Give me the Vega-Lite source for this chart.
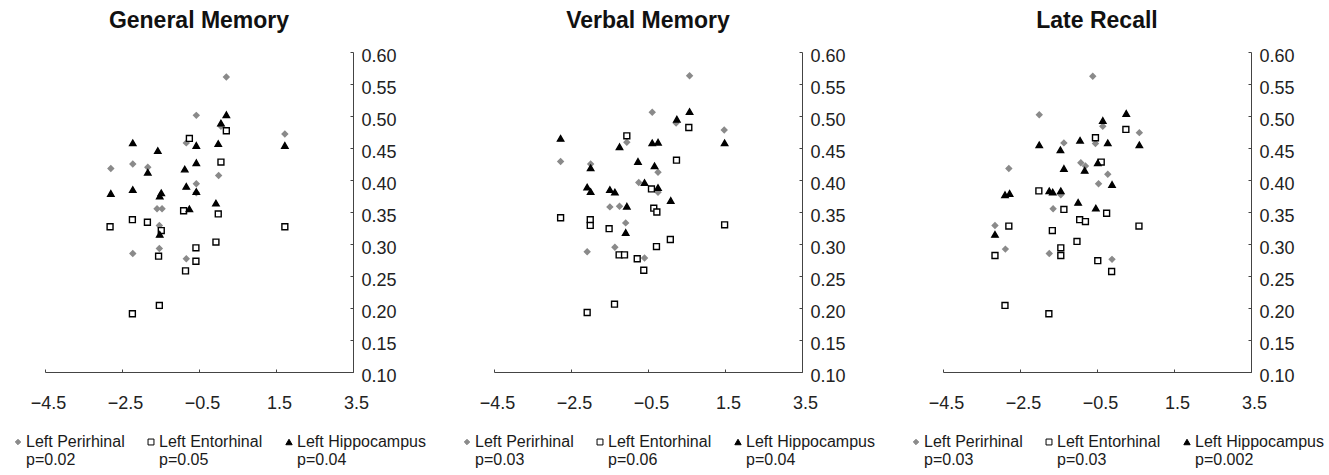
{
  "$schema": "https://vega.github.io/schema/vega-lite/v6.json",
  "background": "white",
  "padding": {"left": 10, "top": 10, "right": 5, "bottom": 3},
  "bounds": "flush",
  "spacing": 141,
  "config": {
    "view": {"stroke": null},
    "font": "Liberation Sans",
    "axis": {
      "grid": false,
      "domainColor": "#444444",
      "tickColor": "#444444",
      "labelFont": "Liberation Sans",
      "labelFontSize": 18,
      "labelColor": "#222222",
      "title": null,
      "labelOverlap": false,
      "labelFlush": false,
      "tickSize": -3
    },
    "title": {"font": "Liberation Sans", "fontSize": 23, "fontWeight": "bold", "color": "#111111", "offset": 14}
  },
  "datasets": {
    "gm": [
      {"r": "Left Perirhinal", "x": 0.21, "y": 0.561}, {"r": "Left Perirhinal", "x": -0.57, "y": 0.501}, {"r": "Left Perirhinal", "x": 1.73, "y": 0.472}, {"r": "Left Perirhinal", "x": -0.83, "y": 0.458}, {"r": "Left Perirhinal", "x": -2.79, "y": 0.418}, {"r": "Left Perirhinal", "x": -2.22, "y": 0.425}, {"r": "Left Perirhinal", "x": -1.83, "y": 0.42}, {"r": "Left Perirhinal", "x": 0.01, "y": 0.407}, {"r": "Left Perirhinal", "x": -0.57, "y": 0.394}, {"r": "Left Perirhinal", "x": -0.57, "y": 0.38}, {"r": "Left Perirhinal", "x": -1.59, "y": 0.355}, {"r": "Left Perirhinal", "x": -1.46, "y": 0.355}, {"r": "Left Perirhinal", "x": -1.53, "y": 0.329}, {"r": "Left Perirhinal", "x": -1.53, "y": 0.293}, {"r": "Left Perirhinal", "x": -2.22, "y": 0.285}, {"r": "Left Perirhinal", "x": -0.83, "y": 0.277}, {"r": "Left Perirhinal", "x": 0.07, "y": 0.484},
      {"r": "Left Entorhinal", "x": -0.75, "y": 0.465}, {"r": "Left Entorhinal", "x": 0.21, "y": 0.477}, {"r": "Left Entorhinal", "x": 0.07, "y": 0.428}, {"r": "Left Entorhinal", "x": -0.9, "y": 0.352}, {"r": "Left Entorhinal", "x": 0.0, "y": 0.347}, {"r": "Left Entorhinal", "x": -2.81, "y": 0.327}, {"r": "Left Entorhinal", "x": -2.23, "y": 0.338}, {"r": "Left Entorhinal", "x": -1.84, "y": 0.334}, {"r": "Left Entorhinal", "x": -1.48, "y": 0.321}, {"r": "Left Entorhinal", "x": 1.73, "y": 0.327}, {"r": "Left Entorhinal", "x": -0.06, "y": 0.303}, {"r": "Left Entorhinal", "x": -0.58, "y": 0.294}, {"r": "Left Entorhinal", "x": -1.55, "y": 0.281}, {"r": "Left Entorhinal", "x": -0.58, "y": 0.273}, {"r": "Left Entorhinal", "x": -0.85, "y": 0.258}, {"r": "Left Entorhinal", "x": -1.53, "y": 0.204}, {"r": "Left Entorhinal", "x": -2.23, "y": 0.191},
      {"r": "Left Hippocampus", "x": 0.21, "y": 0.502}, {"r": "Left Hippocampus", "x": 0.07, "y": 0.489}, {"r": "Left Hippocampus", "x": -2.22, "y": 0.458}, {"r": "Left Hippocampus", "x": -1.57, "y": 0.446}, {"r": "Left Hippocampus", "x": -0.57, "y": 0.454}, {"r": "Left Hippocampus", "x": 0.0, "y": 0.457}, {"r": "Left Hippocampus", "x": 1.73, "y": 0.454}, {"r": "Left Hippocampus", "x": -0.57, "y": 0.427}, {"r": "Left Hippocampus", "x": -0.87, "y": 0.417}, {"r": "Left Hippocampus", "x": -1.83, "y": 0.412}, {"r": "Left Hippocampus", "x": -2.79, "y": 0.379}, {"r": "Left Hippocampus", "x": -2.22, "y": 0.385}, {"r": "Left Hippocampus", "x": -1.48, "y": 0.38}, {"r": "Left Hippocampus", "x": -1.52, "y": 0.375}, {"r": "Left Hippocampus", "x": -0.83, "y": 0.39}, {"r": "Left Hippocampus", "x": -0.57, "y": 0.382}, {"r": "Left Hippocampus", "x": -0.06, "y": 0.364}, {"r": "Left Hippocampus", "x": -0.75, "y": 0.355}, {"r": "Left Hippocampus", "x": -1.52, "y": 0.315}
    ],
    "vm": [
      {"r": "Left Perirhinal", "x": 0.58, "y": 0.563}, {"r": "Left Perirhinal", "x": -0.39, "y": 0.506}, {"r": "Left Perirhinal", "x": 1.48, "y": 0.478}, {"r": "Left Perirhinal", "x": -1.05, "y": 0.459}, {"r": "Left Perirhinal", "x": -2.77, "y": 0.429}, {"r": "Left Perirhinal", "x": -1.99, "y": 0.425}, {"r": "Left Perirhinal", "x": -0.24, "y": 0.412}, {"r": "Left Perirhinal", "x": -0.74, "y": 0.396}, {"r": "Left Perirhinal", "x": -0.24, "y": 0.381}, {"r": "Left Perirhinal", "x": -1.49, "y": 0.358}, {"r": "Left Perirhinal", "x": -1.24, "y": 0.359}, {"r": "Left Perirhinal", "x": -1.08, "y": 0.333}, {"r": "Left Perirhinal", "x": -2.08, "y": 0.288}, {"r": "Left Perirhinal", "x": -1.36, "y": 0.295}, {"r": "Left Perirhinal", "x": -0.59, "y": 0.278}, {"r": "Left Perirhinal", "x": 0.23, "y": 0.489},
      {"r": "Left Entorhinal", "x": -1.05, "y": 0.469}, {"r": "Left Entorhinal", "x": 0.56, "y": 0.482}, {"r": "Left Entorhinal", "x": 0.24, "y": 0.431}, {"r": "Left Entorhinal", "x": -0.41, "y": 0.386}, {"r": "Left Entorhinal", "x": -0.35, "y": 0.356}, {"r": "Left Entorhinal", "x": -0.27, "y": 0.35}, {"r": "Left Entorhinal", "x": -2.77, "y": 0.341}, {"r": "Left Entorhinal", "x": -2.0, "y": 0.338}, {"r": "Left Entorhinal", "x": -2.0, "y": 0.329}, {"r": "Left Entorhinal", "x": -1.51, "y": 0.324}, {"r": "Left Entorhinal", "x": 1.49, "y": 0.33}, {"r": "Left Entorhinal", "x": 0.08, "y": 0.307}, {"r": "Left Entorhinal", "x": -0.28, "y": 0.296}, {"r": "Left Entorhinal", "x": -1.25, "y": 0.283}, {"r": "Left Entorhinal", "x": -1.11, "y": 0.283}, {"r": "Left Entorhinal", "x": -0.78, "y": 0.277}, {"r": "Left Entorhinal", "x": -0.61, "y": 0.259}, {"r": "Left Entorhinal", "x": -1.37, "y": 0.206}, {"r": "Left Entorhinal", "x": -2.08, "y": 0.193},
      {"r": "Left Hippocampus", "x": 0.58, "y": 0.507}, {"r": "Left Hippocampus", "x": 0.25, "y": 0.495}, {"r": "Left Hippocampus", "x": -2.77, "y": 0.465}, {"r": "Left Hippocampus", "x": -1.24, "y": 0.452}, {"r": "Left Hippocampus", "x": -0.39, "y": 0.458}, {"r": "Left Hippocampus", "x": -0.24, "y": 0.459}, {"r": "Left Hippocampus", "x": 1.49, "y": 0.458}, {"r": "Left Hippocampus", "x": -0.76, "y": 0.429}, {"r": "Left Hippocampus", "x": -0.33, "y": 0.422}, {"r": "Left Hippocampus", "x": -1.99, "y": 0.419}, {"r": "Left Hippocampus", "x": -0.59, "y": 0.396}, {"r": "Left Hippocampus", "x": -2.08, "y": 0.389}, {"r": "Left Hippocampus", "x": -1.99, "y": 0.382}, {"r": "Left Hippocampus", "x": -1.49, "y": 0.385}, {"r": "Left Hippocampus", "x": -1.36, "y": 0.381}, {"r": "Left Hippocampus", "x": -0.24, "y": 0.388}, {"r": "Left Hippocampus", "x": 0.09, "y": 0.368}, {"r": "Left Hippocampus", "x": -1.05, "y": 0.359}, {"r": "Left Hippocampus", "x": -1.08, "y": 0.318}
    ],
    "lr": [
      {"r": "Left Perirhinal", "x": -0.61, "y": 0.562}, {"r": "Left Perirhinal", "x": -2.0, "y": 0.502}, {"r": "Left Perirhinal", "x": 0.6, "y": 0.474}, {"r": "Left Perirhinal", "x": -1.36, "y": 0.458}, {"r": "Left Perirhinal", "x": -0.54, "y": 0.457}, {"r": "Left Perirhinal", "x": -0.35, "y": 0.484}, {"r": "Left Perirhinal", "x": -2.79, "y": 0.418}, {"r": "Left Perirhinal", "x": -0.92, "y": 0.427}, {"r": "Left Perirhinal", "x": -0.8, "y": 0.422}, {"r": "Left Perirhinal", "x": -0.22, "y": 0.409}, {"r": "Left Perirhinal", "x": -0.46, "y": 0.394}, {"r": "Left Perirhinal", "x": -1.44, "y": 0.377}, {"r": "Left Perirhinal", "x": -1.64, "y": 0.355}, {"r": "Left Perirhinal", "x": -3.15, "y": 0.329}, {"r": "Left Perirhinal", "x": -2.88, "y": 0.292}, {"r": "Left Perirhinal", "x": -1.74, "y": 0.285}, {"r": "Left Perirhinal", "x": -0.11, "y": 0.276},
      {"r": "Left Entorhinal", "x": -0.54, "y": 0.466}, {"r": "Left Entorhinal", "x": 0.25, "y": 0.479}, {"r": "Left Entorhinal", "x": -0.39, "y": 0.428}, {"r": "Left Entorhinal", "x": -2.01, "y": 0.383}, {"r": "Left Entorhinal", "x": -1.36, "y": 0.354}, {"r": "Left Entorhinal", "x": -0.25, "y": 0.348}, {"r": "Left Entorhinal", "x": -2.79, "y": 0.328}, {"r": "Left Entorhinal", "x": -1.66, "y": 0.321}, {"r": "Left Entorhinal", "x": -0.95, "y": 0.338}, {"r": "Left Entorhinal", "x": -0.8, "y": 0.335}, {"r": "Left Entorhinal", "x": 0.59, "y": 0.328}, {"r": "Left Entorhinal", "x": -1.02, "y": 0.304}, {"r": "Left Entorhinal", "x": -1.44, "y": 0.294}, {"r": "Left Entorhinal", "x": -3.15, "y": 0.282}, {"r": "Left Entorhinal", "x": -1.44, "y": 0.282}, {"r": "Left Entorhinal", "x": -0.48, "y": 0.274}, {"r": "Left Entorhinal", "x": -0.12, "y": 0.257}, {"r": "Left Entorhinal", "x": -2.89, "y": 0.204}, {"r": "Left Entorhinal", "x": -1.75, "y": 0.191},
      {"r": "Left Hippocampus", "x": 0.26, "y": 0.504}, {"r": "Left Hippocampus", "x": -0.35, "y": 0.493}, {"r": "Left Hippocampus", "x": -2.0, "y": 0.455}, {"r": "Left Hippocampus", "x": -1.45, "y": 0.447}, {"r": "Left Hippocampus", "x": -0.94, "y": 0.462}, {"r": "Left Hippocampus", "x": -0.22, "y": 0.458}, {"r": "Left Hippocampus", "x": 0.6, "y": 0.455}, {"r": "Left Hippocampus", "x": -1.36, "y": 0.418}, {"r": "Left Hippocampus", "x": -0.82, "y": 0.415}, {"r": "Left Hippocampus", "x": -0.48, "y": 0.427}, {"r": "Left Hippocampus", "x": -0.11, "y": 0.393}, {"r": "Left Hippocampus", "x": -2.89, "y": 0.377}, {"r": "Left Hippocampus", "x": -2.77, "y": 0.379}, {"r": "Left Hippocampus", "x": -1.74, "y": 0.383}, {"r": "Left Hippocampus", "x": -1.65, "y": 0.381}, {"r": "Left Hippocampus", "x": -1.44, "y": 0.383}, {"r": "Left Hippocampus", "x": -0.99, "y": 0.365}, {"r": "Left Hippocampus", "x": -0.53, "y": 0.356}, {"r": "Left Hippocampus", "x": -3.15, "y": 0.315}
    ]
  },
  "resolve": {
    "scale": {"shape": "independent", "color": "independent", "fill": "independent", "size": "independent"},
    "legend": {"shape": "independent", "color": "independent"}
  },
  "hconcat": [
    {
      "width": 308, "height": 320,
      "title": "General Memory",
      "data": {"name": "gm"},
      "mark": {"type": "point", "opacity": 1, "strokeWidth": 1.4},
      "encoding": {
        "x": {"field": "x", "type": "quantitative", "scale": {"domain": [-4.5, 3.5], "nice": false, "zero": false}, "axis": {"values": [-4.5, -2.5, -0.5, 1.5, 3.5], "format": ".1f", "labelPadding": 25, "labelOffset": 3}},
        "y": {"field": "y", "type": "quantitative", "scale": {"domain": [0.1, 0.6], "nice": false, "zero": false}, "axis": {"orient": "right", "values": [0.1, 0.15, 0.2, 0.25, 0.3, 0.35, 0.4, 0.45, 0.5, 0.55, 0.6], "format": ".2f", "labelPadding": 11, "labelOffset": 4}},
        "shape": {"field": "r", "type": "nominal", "scale": {"domain": ["Left Perirhinal", "Left Entorhinal", "Left Hippocampus"], "range": ["diamond", "square", "triangle-up"]},
          "legend": {"orient": "none", "legendX": -35, "legendY": 382, "direction": "horizontal", "columns": 3, "title": null, "labelFont": "Liberation Sans", "labelFontSize": 16, "labelColor": "#1a1a1a", "symbolSize": 20, "symbolStrokeWidth": 1, "columnPadding": 18, "labelOffset": 0, "labelLimit": 250,
            "labelExpr": "datum.label == 'Left Perirhinal' ? ['Left Perirhinal', 'p=0.02'] : datum.label == 'Left Entorhinal' ? ['Left Entorhinal', 'p=0.05'] : ['Left Hippocampus', 'p=0.04']",
            "encode": {"symbols": {"update": {"fill": {"signal": "datum.value == 'Left Entorhinal' ? '#ffffff' : datum.value == 'Left Perirhinal' ? '#8a8a8a' : '#000000'"}}}}}},
        "color": {"field": "r", "type": "nominal", "scale": {"domain": ["Left Perirhinal", "Left Entorhinal", "Left Hippocampus"], "range": ["#8a8a8a", "#000000", "#000000"]},
          "legend": {"orient": "none", "legendX": -35, "legendY": 382, "direction": "horizontal", "columns": 3, "title": null, "labelFont": "Liberation Sans", "labelFontSize": 16, "labelColor": "#1a1a1a", "symbolSize": 20, "symbolStrokeWidth": 1, "columnPadding": 18, "labelOffset": 0, "labelLimit": 250,
            "labelExpr": "datum.label == 'Left Perirhinal' ? ['Left Perirhinal', 'p=0.02'] : datum.label == 'Left Entorhinal' ? ['Left Entorhinal', 'p=0.05'] : ['Left Hippocampus', 'p=0.04']",
            "encode": {"symbols": {"update": {"fill": {"signal": "datum.value == 'Left Entorhinal' ? '#ffffff' : datum.value == 'Left Perirhinal' ? '#8a8a8a' : '#000000'"}}}}}},
        "fill": {"field": "r", "type": "nominal", "scale": {"domain": ["Left Perirhinal", "Left Entorhinal", "Left Hippocampus"], "range": ["#8a8a8a", "#ffffff", "#000000"]}, "legend": null},
        "size": {"field": "r", "type": "nominal", "scale": {"domain": ["Left Perirhinal", "Left Entorhinal", "Left Hippocampus"], "range": [30, 40, 60]}, "legend": null}
      }
    },
    {
      "width": 308, "height": 320,
      "title": "Verbal Memory",
      "data": {"name": "vm"},
      "mark": {"type": "point", "opacity": 1, "strokeWidth": 1.4},
      "encoding": {
        "x": {"field": "x", "type": "quantitative", "scale": {"domain": [-4.5, 3.5], "nice": false, "zero": false}, "axis": {"values": [-4.5, -2.5, -0.5, 1.5, 3.5], "format": ".1f", "labelPadding": 25, "labelOffset": 3}},
        "y": {"field": "y", "type": "quantitative", "scale": {"domain": [0.1, 0.6], "nice": false, "zero": false}, "axis": {"orient": "right", "values": [0.1, 0.15, 0.2, 0.25, 0.3, 0.35, 0.4, 0.45, 0.5, 0.55, 0.6], "format": ".2f", "labelPadding": 11, "labelOffset": 4}},
        "shape": {"field": "r", "type": "nominal", "scale": {"domain": ["Left Perirhinal", "Left Entorhinal", "Left Hippocampus"], "range": ["diamond", "square", "triangle-up"]},
          "legend": {"orient": "none", "legendX": -35, "legendY": 382, "direction": "horizontal", "columns": 3, "title": null, "labelFont": "Liberation Sans", "labelFontSize": 16, "labelColor": "#1a1a1a", "symbolSize": 20, "symbolStrokeWidth": 1, "columnPadding": 18, "labelOffset": 0, "labelLimit": 250,
            "labelExpr": "datum.label == 'Left Perirhinal' ? ['Left Perirhinal', 'p=0.03'] : datum.label == 'Left Entorhinal' ? ['Left Entorhinal', 'p=0.06'] : ['Left Hippocampus', 'p=0.04']",
            "encode": {"symbols": {"update": {"fill": {"signal": "datum.value == 'Left Entorhinal' ? '#ffffff' : datum.value == 'Left Perirhinal' ? '#8a8a8a' : '#000000'"}}}}}},
        "color": {"field": "r", "type": "nominal", "scale": {"domain": ["Left Perirhinal", "Left Entorhinal", "Left Hippocampus"], "range": ["#8a8a8a", "#000000", "#000000"]},
          "legend": {"orient": "none", "legendX": -35, "legendY": 382, "direction": "horizontal", "columns": 3, "title": null, "labelFont": "Liberation Sans", "labelFontSize": 16, "labelColor": "#1a1a1a", "symbolSize": 20, "symbolStrokeWidth": 1, "columnPadding": 18, "labelOffset": 0, "labelLimit": 250,
            "labelExpr": "datum.label == 'Left Perirhinal' ? ['Left Perirhinal', 'p=0.03'] : datum.label == 'Left Entorhinal' ? ['Left Entorhinal', 'p=0.06'] : ['Left Hippocampus', 'p=0.04']",
            "encode": {"symbols": {"update": {"fill": {"signal": "datum.value == 'Left Entorhinal' ? '#ffffff' : datum.value == 'Left Perirhinal' ? '#8a8a8a' : '#000000'"}}}}}},
        "fill": {"field": "r", "type": "nominal", "scale": {"domain": ["Left Perirhinal", "Left Entorhinal", "Left Hippocampus"], "range": ["#8a8a8a", "#ffffff", "#000000"]}, "legend": null},
        "size": {"field": "r", "type": "nominal", "scale": {"domain": ["Left Perirhinal", "Left Entorhinal", "Left Hippocampus"], "range": [30, 40, 60]}, "legend": null}
      }
    },
    {
      "width": 308, "height": 320,
      "title": "Late Recall",
      "data": {"name": "lr"},
      "mark": {"type": "point", "opacity": 1, "strokeWidth": 1.4},
      "encoding": {
        "x": {"field": "x", "type": "quantitative", "scale": {"domain": [-4.5, 3.5], "nice": false, "zero": false}, "axis": {"values": [-4.5, -2.5, -0.5, 1.5, 3.5], "format": ".1f", "labelPadding": 25, "labelOffset": 3}},
        "y": {"field": "y", "type": "quantitative", "scale": {"domain": [0.1, 0.6], "nice": false, "zero": false}, "axis": {"orient": "right", "values": [0.1, 0.15, 0.2, 0.25, 0.3, 0.35, 0.4, 0.45, 0.5, 0.55, 0.6], "format": ".2f", "labelPadding": 11, "labelOffset": 4}},
        "shape": {"field": "r", "type": "nominal", "scale": {"domain": ["Left Perirhinal", "Left Entorhinal", "Left Hippocampus"], "range": ["diamond", "square", "triangle-up"]},
          "legend": {"orient": "none", "legendX": -35, "legendY": 382, "direction": "horizontal", "columns": 3, "title": null, "labelFont": "Liberation Sans", "labelFontSize": 16, "labelColor": "#1a1a1a", "symbolSize": 20, "symbolStrokeWidth": 1, "columnPadding": 18, "labelOffset": 0, "labelLimit": 250,
            "labelExpr": "datum.label == 'Left Perirhinal' ? ['Left Perirhinal', 'p=0.03'] : datum.label == 'Left Entorhinal' ? ['Left Entorhinal', 'p=0.03'] : ['Left Hippocampus', 'p=0.002']",
            "encode": {"symbols": {"update": {"fill": {"signal": "datum.value == 'Left Entorhinal' ? '#ffffff' : datum.value == 'Left Perirhinal' ? '#8a8a8a' : '#000000'"}}}}}},
        "color": {"field": "r", "type": "nominal", "scale": {"domain": ["Left Perirhinal", "Left Entorhinal", "Left Hippocampus"], "range": ["#8a8a8a", "#000000", "#000000"]},
          "legend": {"orient": "none", "legendX": -35, "legendY": 382, "direction": "horizontal", "columns": 3, "title": null, "labelFont": "Liberation Sans", "labelFontSize": 16, "labelColor": "#1a1a1a", "symbolSize": 20, "symbolStrokeWidth": 1, "columnPadding": 18, "labelOffset": 0, "labelLimit": 250,
            "labelExpr": "datum.label == 'Left Perirhinal' ? ['Left Perirhinal', 'p=0.03'] : datum.label == 'Left Entorhinal' ? ['Left Entorhinal', 'p=0.03'] : ['Left Hippocampus', 'p=0.002']",
            "encode": {"symbols": {"update": {"fill": {"signal": "datum.value == 'Left Entorhinal' ? '#ffffff' : datum.value == 'Left Perirhinal' ? '#8a8a8a' : '#000000'"}}}}}},
        "fill": {"field": "r", "type": "nominal", "scale": {"domain": ["Left Perirhinal", "Left Entorhinal", "Left Hippocampus"], "range": ["#8a8a8a", "#ffffff", "#000000"]}, "legend": null},
        "size": {"field": "r", "type": "nominal", "scale": {"domain": ["Left Perirhinal", "Left Entorhinal", "Left Hippocampus"], "range": [30, 40, 60]}, "legend": null}
      }
    }
  ]
}
